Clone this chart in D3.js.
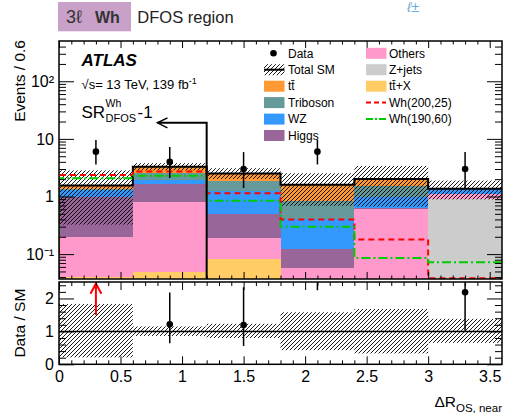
<!DOCTYPE html>
<html>
<head>
<meta charset="utf-8">
<script src="https://cdn.jsdelivr.net/npm/d3@7"></script>
<style>
  body { margin: 0; background: #fff; }
  text { font-family: "Liberation Sans", Arial, Helvetica, sans-serif; }
</style>
</head>
<body>
<div id="chart"></div>
<script>
// bin edges of DeltaR_OS,near
const binEdges = [0, 0.6, 1.2, 1.8, 2.4, 3.0, 3.6];

// SM backgrounds (events / bin), stacked bottom -> top
const zjets    = [0.002, 0.003, 0.004, 0.003, 0.003, 0.91];
const ttX      = [0.038, 0.045, 0.078, 0.020, 0.010, 0.005];
const others   = [0.16,  0.75,  0.112, 0.034, 0.597, 0.195];
const higgs    = [0.77,  0.85,  0.296, 0.068, 0.02,  0.01];
const wz       = [0.33,  0.29,  0.78,  0.275, 0.34,  0.24];
const triboson = [0.06,  0.58,  0.62,  0.45,  0.58,  0.01];
const ttbar    = [0.19,  0.78,  0.63,  0.75,  0.47,  0.0];

// relative SM uncertainty band (lower / upper)
const bandLo = [0.21, 0.86, 0.80, 0.43, 0.33, 0.65];
const bandHi = [1.83, 1.15, 1.23, 1.58, 1.68, 1.38];

// signals
const wh200_25 = [2.37, 2.73, 1.14, 0.40, 0.18, 0.038];
const wh190_60 = [2.07, 2.30, 0.84, 0.30, 0.086, 0.072];

// data and its error bars
const dataCounts = [6, 4, 3, 6, 0, 3];
const dataErrUp  = [3.6, 3.2, 2.9, 3.6, 0, 2.9];
const dataErrDn  = [2.4, 1.9, 1.6, 2.4, 0, 1.6];
// bins whose ratio is shown by an arrow only
const ratioArrowBins = [0];

// signal region cut annotation
const srCut = 1.2, srArrowTip = 0.8, srArrowLevel = 19;

// axis ticks
const xMajor = [0, 0.5, 1, 1.5, 2, 2.5, 3, 3.5];
const yMajor = [0.1, 1, 10, 100];
const yMajorLabels = ["10\u207B\u00B9", "1", "10", "10\u00B2"];
const ratioMajor = [0, 1, 2];

const processes = [
  { key: "zjets",    label: "Z+jets",   color: "#cccccc", values: zjets },
  { key: "ttX",      label: "tt\u0304+X", color: "#ffcc66", values: ttX },
  { key: "others",   label: "Others",   color: "#ff99cc", values: others },
  { key: "higgs",    label: "Higgs",    color: "#996699", values: higgs },
  { key: "wz",       label: "WZ",       color: "#3399ff", values: wz },
  { key: "triboson", label: "Triboson", color: "#669999", values: triboson },
  { key: "ttbar",    label: "tt\u0304",  color: "#ff9933", values: ttbar }
];
const colorOf = {};
processes.forEach(p => colorOf[p.key] = p.color);

const W = 507, H = 413;
const left = 59, right = 502;
const mainTop = 41, mainBottom = 279;
const ratioTop = 282, ratioBottom = 364.3;

const svg = d3.select("#chart").append("svg")
  .attr("width", W).attr("height", H);

const defs = svg.append("defs");
defs.append("pattern").attr("id", "hatch")
  .attr("patternUnits", "userSpaceOnUse").attr("width", 4).attr("height", 4)
  .append("path").attr("d", "M-1,1 l2,-2 M0,4 l4,-4 M3,5 l2,-2")
  .attr("stroke", "#000").attr("stroke-width", 0.9);
defs.append("clipPath").attr("id", "clipMain").append("rect")
  .attr("x", left).attr("y", mainTop).attr("width", right - left).attr("height", mainBottom - mainTop);
defs.append("clipPath").attr("id", "clipRatio").append("rect")
  .attr("x", left).attr("y", ratioTop).attr("width", right - left).attr("height", ratioBottom - ratioTop);

// scales
const x = d3.scaleLinear().domain([0, 3.6]).range([left, right]);
const y = d3.scaleLog().domain([0.037, 500]).range([mainBottom, mainTop]).clamp(true);
const yr = d3.scaleLinear().domain([0, 2.5]).range([ratioBottom, ratioTop]);

// table for d3.stack
const bins = binEdges.slice(0, -1).map((lo, i) => {
  const row = { lo: lo, hi: binEdges[i + 1], mid: (lo + binEdges[i + 1]) / 2 };
  processes.forEach(p => row[p.key] = p.values[i]);
  return row;
});
const stacked = d3.stack().keys(processes.map(p => p.key))(bins);
const totals = bins.map((b, i) => d3.sum(processes, p => p.values[i]));

const main = svg.append("g").attr("clip-path", "url(#clipMain)");

// stacked backgrounds
main.selectAll("g.layer").data(stacked).join("g")
  .attr("class", "layer")
  .attr("fill", d => colorOf[d.key])
  .selectAll("rect").data(d => d).join("rect")
  .attr("shape-rendering", "crispEdges")
  .attr("x", d => x(d.data.lo))
  .attr("width", d => x(d.data.hi) - x(d.data.lo))
  .attr("y", d => y(Math.max(d[1], 1e-6)))
  .attr("height", d => y(Math.max(d[0], 1e-6)) - y(Math.max(d[1], 1e-6)));

// uncertainty band
main.selectAll("rect.band").data(bins).join("rect")
  .attr("class", "band")
  .attr("fill", "url(#hatch)")
  .attr("x", d => x(d.lo))
  .attr("width", d => x(d.hi) - x(d.lo))
  .attr("y", (d, i) => y(totals[i] * bandHi[i]))
  .attr("height", (d, i) => y(totals[i] * bandLo[i]) - y(totals[i] * bandHi[i]));

// step helper
function stepPoints(vals, closed) {
  const pts = [];
  if (closed) pts.push([x(binEdges[0]), mainBottom + 5]);
  vals.forEach((v, i) => {
    pts.push([x(binEdges[i]), y(v)]);
    pts.push([x(binEdges[i + 1]), y(v)]);
  });
  if (closed) pts.push([x(binEdges[binEdges.length - 1]), mainBottom + 5]);
  return pts;
}
const line = d3.line();

// total SM outline
main.append("path").attr("d", line(stepPoints(totals, false)))
  .attr("fill", "none").attr("stroke", "#000").attr("stroke-width", 2);

// signals
main.append("path").attr("d", line(stepPoints(wh200_25, true)))
  .attr("fill", "none").attr("stroke", "#ff0000").attr("stroke-width", 2)
  .attr("stroke-dasharray", "6,4");
main.append("path").attr("d", line(stepPoints(wh190_60, true)))
  .attr("fill", "none").attr("stroke", "#00cc00").attr("stroke-width", 2)
  .attr("stroke-dasharray", "9,3,2,3");

// SR cut line and arrow
const arrowY = y(srArrowLevel);
svg.append("path")
  .attr("d", `M${x(srCut)},${mainBottom} V${arrowY} H${x(srArrowTip)}`)
  .attr("fill", "none").attr("stroke", "#000").attr("stroke-width", 2);
svg.append("path")
  .attr("d", `M${x(srArrowTip) + 10},${arrowY - 5} L${x(srArrowTip)},${arrowY} L${x(srArrowTip) + 10},${arrowY + 5}`)
  .attr("fill", "none").attr("stroke", "#000").attr("stroke-width", 1.5);

// data points
const dataBins = bins.map((b, i) => ({ mid: b.mid, n: dataCounts[i], up: dataErrUp[i], dn: dataErrDn[i], i: i }))
  .filter(d => d.n > 0);
main.selectAll("line.err").data(dataBins).join("line")
  .attr("x1", d => x(d.mid)).attr("x2", d => x(d.mid))
  .attr("y1", d => y(d.n + d.up)).attr("y2", d => y(d.n - d.dn))
  .attr("stroke", "#000").attr("stroke-width", 1.5);
main.selectAll("circle.pt").data(dataBins).join("circle")
  .attr("cx", d => x(d.mid)).attr("cy", d => y(d.n)).attr("r", 3.3).attr("fill", "#000");

// ratio panel
const ratio = svg.append("g").attr("clip-path", "url(#clipRatio)");
ratio.selectAll("rect").data(bins).join("rect")
  .attr("fill", "url(#hatch)")
  .attr("x", d => x(d.lo)).attr("width", d => x(d.hi) - x(d.lo))
  .attr("y", (d, i) => yr(bandHi[i]))
  .attr("height", (d, i) => yr(bandLo[i]) - yr(bandHi[i]));
ratio.append("line")
  .attr("x1", left).attr("x2", right).attr("y1", yr(1)).attr("y2", yr(1))
  .attr("stroke", "#000").attr("stroke-width", 1.5);
const ratioPts = dataBins.filter(d => !ratioArrowBins.includes(d.i))
  .map(d => ({ mid: d.mid, r: d.n / totals[d.i], hi: (d.n + d.up) / totals[d.i], lo: (d.n - d.dn) / totals[d.i] }));
ratio.selectAll("line.err").data(ratioPts).join("line")
  .attr("x1", d => x(d.mid)).attr("x2", d => x(d.mid))
  .attr("y1", d => yr(d.hi)).attr("y2", d => yr(d.lo))
  .attr("stroke", "#000").attr("stroke-width", 1.5);
ratio.selectAll("circle").data(ratioPts.filter(d => d.r <= 2.5)).join("circle")
  .attr("cx", d => x(d.mid)).attr("cy", d => yr(d.r)).attr("r", 3.3).attr("fill", "#000");
ratioArrowBins.forEach(i => {
  const ax = x(bins[i].mid);
  svg.append("path")
    .attr("d", `M${ax},${yr(1.5)} V${yr(2.45)} M${ax - 5.5},${yr(2.45) + 10} L${ax},${yr(2.45)} L${ax + 5.5},${yr(2.45) + 10}`)
    .attr("fill", "none").attr("stroke", "#ff0000").attr("stroke-width", 2);
});

// axes helpers
function styleAxis(g) {
  g.select(".domain").remove();
  g.selectAll("line").attr("stroke", "#000").attr("stroke-width", 1);
  g.selectAll("text").attr("font-family", "'Liberation Sans', Arial, sans-serif")
    .attr("font-size", 16).attr("fill", "#000");
}
const xMinor = d3.range(0, 36).map(k => k / 10).filter(v => !xMajor.some(m => Math.abs(m - v) < 1e-9));
const yMinor = [];
[0.01, 0.1, 1, 10, 100].forEach(dec => d3.range(2, 10).forEach(k => {
  const v = k * dec;
  if (v > 0.037 && v < 500) yMinor.push(v);
}));
const ratioMinor = d3.range(0, 13).map(k => k * 0.2).filter(v => !ratioMajor.some(m => Math.abs(m - v) < 1e-9));

function xTicks(yPos, dir, major, minor, labels) {
  const mk = dir === "bottom" ? d3.axisBottom : d3.axisTop;
  svg.append("g").attr("transform", `translate(0,${yPos})`)
    .call(mk(x).tickValues(xMinor).tickSize(-minor).tickFormat(""))
    .call(styleAxis);
  const gm = svg.append("g").attr("transform", `translate(0,${yPos})`)
    .call(mk(x).tickValues(xMajor).tickSize(-major).tickPadding(6)
      .tickFormat(labels ? d3.format("~g") : ""))
    .call(styleAxis);
  return gm;
}
xTicks(mainBottom, "bottom", 7, 3.5, false);
xTicks(mainTop, "top", 7, 3.5, false);
xTicks(ratioBottom, "bottom", 8, 4, true);
xTicks(ratioTop, "top", 8, 4, false);

// main y axes
svg.append("g").attr("transform", `translate(${left},0)`)
  .call(d3.axisLeft(y).tickValues(yMinor).tickSize(-7).tickFormat(""))
  .call(styleAxis);
svg.append("g").attr("transform", `translate(${left},0)`)
  .call(d3.axisLeft(y).tickValues(yMajor).tickSize(-15).tickPadding(5)
    .tickFormat((d, i) => yMajorLabels[i]))
  .call(styleAxis);
svg.append("g").attr("transform", `translate(${right},0)`)
  .call(d3.axisRight(y).tickValues(yMinor).tickSize(-7).tickFormat(""))
  .call(styleAxis);
svg.append("g").attr("transform", `translate(${right},0)`)
  .call(d3.axisRight(y).tickValues(yMajor).tickSize(-15).tickFormat(""))
  .call(styleAxis);

// ratio y axes
svg.append("g").attr("transform", `translate(${left},0)`)
  .call(d3.axisLeft(yr).tickValues(ratioMinor).tickSize(-7).tickFormat(""))
  .call(styleAxis);
svg.append("g").attr("transform", `translate(${left},0)`)
  .call(d3.axisLeft(yr).tickValues(ratioMajor).tickSize(-15).tickPadding(5).tickFormat(d3.format("d")))
  .call(styleAxis);
svg.append("g").attr("transform", `translate(${right},0)`)
  .call(d3.axisRight(yr).tickValues(ratioMinor).tickSize(-7).tickFormat(""))
  .call(styleAxis);
svg.append("g").attr("transform", `translate(${right},0)`)
  .call(d3.axisRight(yr).tickValues(ratioMajor).tickSize(-15).tickFormat(""))
  .call(styleAxis);

// frames
svg.append("rect").attr("x", left).attr("y", mainTop).attr("width", right - left).attr("height", mainBottom - mainTop)
  .attr("fill", "none").attr("stroke", "#000").attr("stroke-width", 1.5);
svg.append("rect").attr("x", left).attr("y", ratioTop).attr("width", right - left).attr("height", ratioBottom - ratioTop)
  .attr("fill", "none").attr("stroke", "#000").attr("stroke-width", 1.5);

// axis titles
svg.append("text")
  .attr("transform", "translate(25,40) rotate(-90)")
  .attr("text-anchor", "end").attr("font-size", 15.5)
  .text("Events / 0.6");
svg.append("text")
  .attr("transform", `translate(25,${(ratioTop + ratioBottom) / 2}) rotate(-90)`)
  .attr("text-anchor", "middle").attr("font-size", 15.5)
  .text("Data / SM");
const xt = svg.append("text").attr("x", right).attr("y", 406.5).attr("text-anchor", "end").attr("font-size", 15.5);
xt.append("tspan").text("\u0394R");
xt.append("tspan").attr("font-size", 11.5).attr("dy", 5).text("OS, near");

// header
svg.append("rect").attr("x", 58).attr("y", 2).attr("width", 73).attr("height", 29.3).attr("fill", "#c8a0c8");
svg.append("text").attr("x", 66).attr("y", 23).attr("font-size", 18)
  .attr("font-family", "'DejaVu Serif', serif").attr("fill", "#333").text("3\u2113");
svg.append("text").attr("x", 95).attr("y", 23).attr("font-size", 16)
  .attr("font-family", "'DejaVu Sans', sans-serif").attr("font-weight", "bold").attr("fill", "#333").text("Wh");
svg.append("text").attr("x", 137.3).attr("y", 23).attr("font-size", 16.5)
  .attr("font-family", "'DejaVu Sans', sans-serif").attr("fill", "#222").text("DFOS region");
svg.append("text").attr("x", 407).attr("y", 12).attr("font-size", 14)
  .attr("font-family", "'DejaVu Serif', serif").attr("font-style", "italic").attr("fill", "#6aaad8").text("\u2113\u00B1");

// ATLAS labels
svg.append("text").attr("x", 81.5).attr("y", 65.5).attr("font-size", 17)
  .attr("font-weight", "bold").attr("font-style", "italic").text("ATLAS");
const ecm = svg.append("text").attr("x", 81.5).attr("y", 88.5).attr("font-size", 13);
ecm.append("tspan").text("\u221As= 13 TeV, 139 fb");
ecm.append("tspan").attr("font-size", 9).attr("dy", -5).text("-1");
svg.append("text").attr("x", 81.5).attr("y", 118).attr("font-size", 17).text("SR");
svg.append("text").attr("x", 105.5).attr("y", 107).attr("font-size", 10.5).text("Wh");
svg.append("text").attr("x", 105.5).attr("y", 122).attr("font-size", 11).text("DFOS");
svg.append("text").attr("x", 137.5).attr("y", 118).attr("font-size", 17).text("-1");

// legend
const rowY = [53.3, 69.7, 86.2, 102.6, 119.1, 135.5];
const leg = svg.append("g").attr("font-size", 12);
function legText(tx, ty, s) {
  leg.append("text").attr("x", tx).attr("y", ty).attr("dy", "0.35em").text(s);
}
function legBox(bx, ty, fill) {
  leg.append("rect").attr("x", bx).attr("y", ty - 5.5).attr("width", 20.5).attr("height", 11).attr("fill", fill);
}
// column 1
leg.append("circle").attr("cx", 273.5).attr("cy", rowY[0]).attr("r", 3.3).attr("fill", "#000");
legText(288, rowY[0], "Data");
legBox(264, rowY[1], "url(#hatch)");
leg.append("line").attr("x1", 264).attr("x2", 284.5).attr("y1", rowY[1]).attr("y2", rowY[1])
  .attr("stroke", "#000").attr("stroke-width", 2);
legText(288, rowY[1], "Total SM");
["ttbar", "triboson", "wz", "higgs"].forEach((k, j) => {
  const p = processes.find(q => q.key === k);
  legBox(264, rowY[j + 2], p.color);
  legText(288, rowY[j + 2], p.label);
});
// column 2
["others", "zjets", "ttX"].forEach((k, j) => {
  const p = processes.find(q => q.key === k);
  legBox(366, rowY[j], p.color);
  legText(389, rowY[j], p.label);
});
leg.append("line").attr("x1", 366).attr("x2", 386).attr("y1", rowY[3]).attr("y2", rowY[3])
  .attr("stroke", "#ff0000").attr("stroke-width", 2).attr("stroke-dasharray", "5,3");
legText(389, rowY[3], "Wh(200,25)");
leg.append("line").attr("x1", 366).attr("x2", 386).attr("y1", rowY[4]).attr("y2", rowY[4])
  .attr("stroke", "#00cc00").attr("stroke-width", 2).attr("stroke-dasharray", "7,2,2,2");
legText(389, rowY[4], "Wh(190,60)");
</script>
</body>
</html>
